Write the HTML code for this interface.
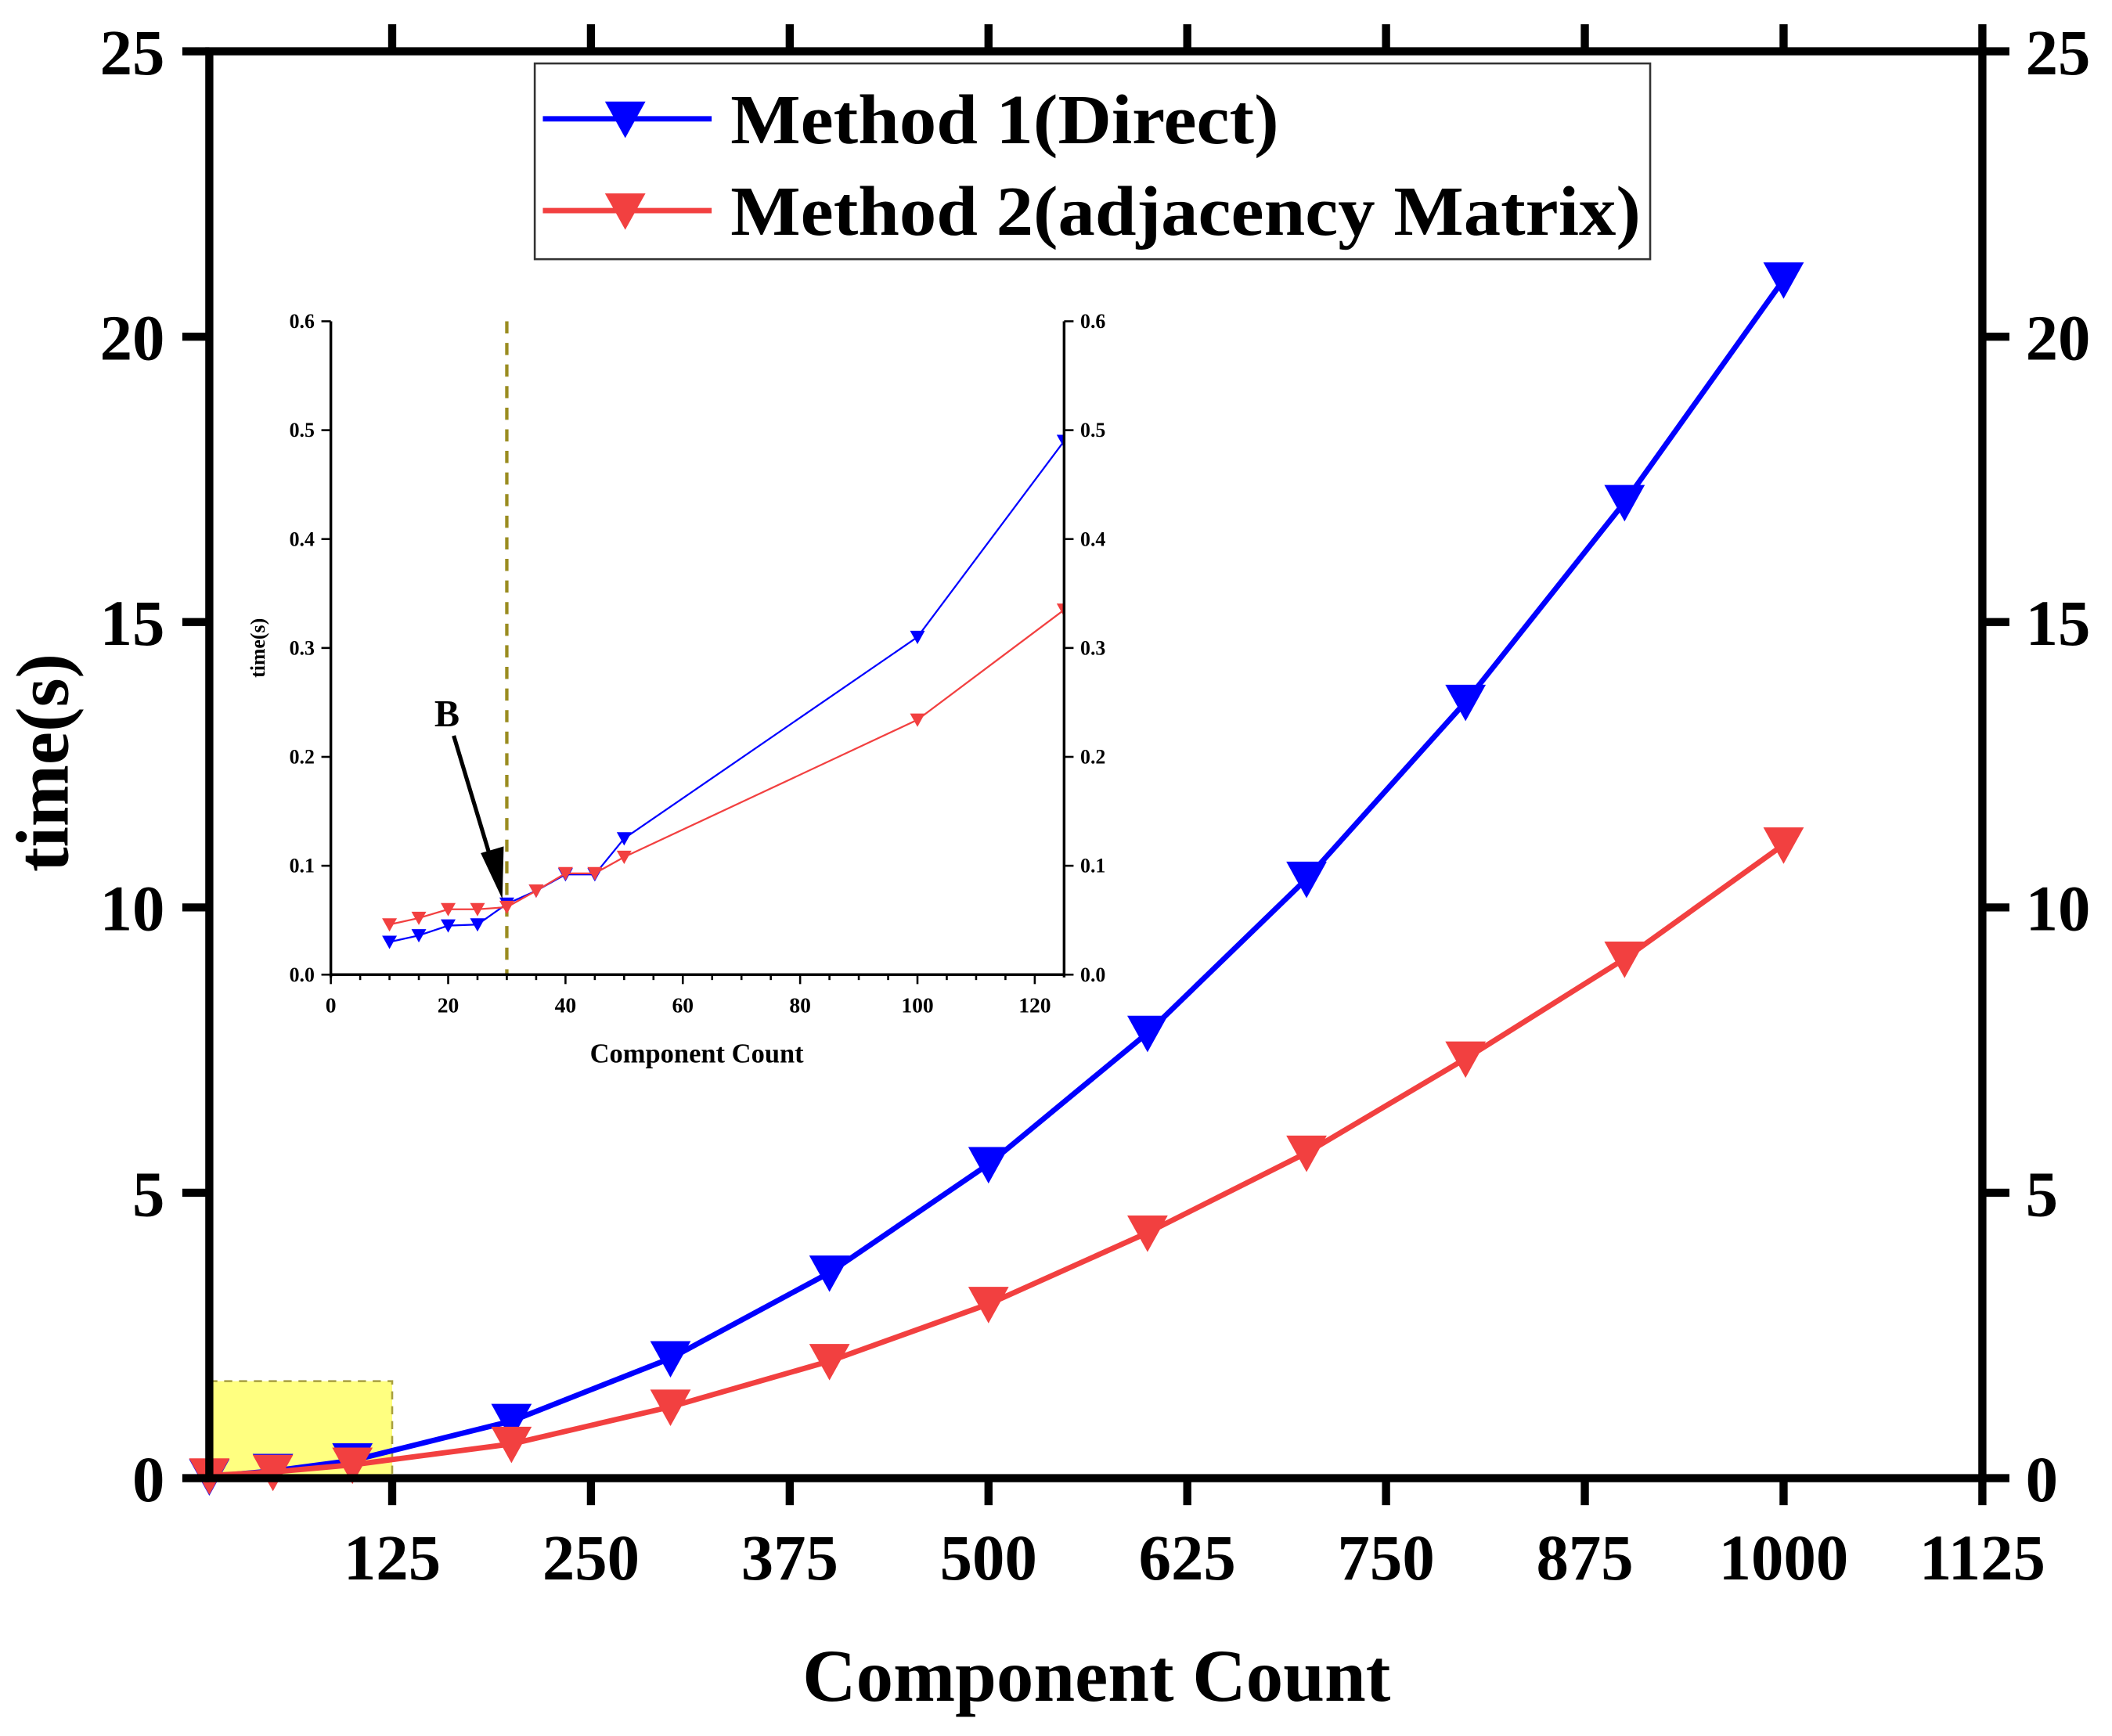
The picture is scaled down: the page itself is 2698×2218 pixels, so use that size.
<!DOCTYPE html>
<html><head><meta charset="utf-8"><style>
html,body{margin:0;padding:0;background:#fff;}
svg{display:block;font-family:"Liberation Serif",serif;font-weight:bold;}
</style></head><body>
<svg id="chart" width="2698" height="2218" viewBox="0 0 1564 1286" preserveAspectRatio="none" xmlns="http://www.w3.org/2000/svg">
<g id="main"></g>
</svg>
<script>
// main chart data
const xMain = [10, 50, 100, 200, 300, 400, 500, 600, 700, 800, 900, 1000];
const yMethod1 = [0.03, 0.125, 0.31, 1.0, 2.1, 3.6, 5.5, 7.8, 10.5, 13.6, 17.1, 21.0];
const yMethod2 = [0.046, 0.108, 0.234, 0.6, 1.25, 2.05, 3.05, 4.3, 5.7, 7.35, 9.1, 11.1];
const xTicks = [125, 250, 375, 500, 625, 750, 875, 1000, 1125];
const yTicks = [0, 5, 10, 15, 20, 25];
// inset data
const xInset = [10, 15, 20, 25, 30, 35, 40, 45, 50, 100, 125];
const yInset1 = [0.03, 0.036, 0.045, 0.046, 0.065, 0.077, 0.092, 0.092, 0.125, 0.31, 0.49];
const yInset2 = [0.046, 0.052, 0.06, 0.06, 0.062, 0.077, 0.093, 0.093, 0.108, 0.234, 0.335];
const insetXTicks = [0, 20, 40, 60, 80, 100, 120];
const insetYTicks = [0.0, 0.1, 0.2, 0.3, 0.4, 0.5, 0.6];

const NS = "http://www.w3.org/2000/svg";
const root = document.getElementById('main');
function mk(tag, attrs, parent) {
  const e = document.createElementNS(NS, tag);
  for (const k in attrs) e.setAttribute(k, attrs[k]);
  (parent || root).appendChild(e);
  return e;
}
const L = 155, R = 1468, T = 38, B = 1095;
const X0 = 10, X1 = 1125, Y0 = 0, Y1 = 25;
const sx = v => L + (v - X0) / (X1 - X0) * (R - L);
const sy = v => B - (v - Y0) / (Y1 - Y0) * (B - T);
const iL = 245, iR = 788, iT = 238, iB = 722;
const ix = v => iL + v / 125 * (iR - iL);
const iy = v => iB - v / 0.6 * (iB - iT);

function tri(cx, cy, s, color, parent) {
  return mk('polygon', {points: `${cx - s},${cy - s * 0.85} ${cx + s},${cy - s * 0.85} ${cx},${cy + s * 0.95}`, fill: color}, parent);
}

let e = mk('rect', {x: sx(10), y: sy(1.7), width: sx(125) - sx(10), height: sy(0) - sy(1.7), fill: '#ffff80', stroke: '#a8a040', 'stroke-width': 1.5, 'stroke-dasharray': '6,5'});



function series(xs, ys, color, name, fx, fy, sw, ms, parent) {
  const g = mk('g', {}, parent);
  
  
  const pl = mk('polyline', {points: xs.map((x, i) => fx(x) + ',' + fy(ys[i])).join(' '), fill: 'none', stroke: color, 'stroke-width': sw}, g);
  
  
  xs.forEach((x, i) => {
    const m = tri(fx(x), fy(ys[i]), ms, color, g);
    
    
  });
  return g;
}
series(xMain, yMethod1, '#0000ff', 'method1-series', sx, sy, 4, 15);
series(xMain, yMethod2, '#f24040', 'method2-series', sx, sy, 4, 15);

e = mk('rect', {x: L, y: T, width: R - L, height: B - T, fill: 'none', stroke: '#000', 'stroke-width': 6});


xTicks.forEach(v => {
  mk('line', {x1: sx(v), x2: sx(v), y1: B, y2: B + 20, stroke: '#000', 'stroke-width': 6});
  mk('line', {x1: sx(v), x2: sx(v), y1: T, y2: T - 20, stroke: '#000', 'stroke-width': 6});
  const t = mk('text', {x: sx(v), y: 1170, 'text-anchor': 'middle', 'font-size': 48});
  t.textContent = v;
  
  
});
yTicks.forEach(v => {
  mk('line', {x1: L, x2: L - 20, y1: sy(v), y2: sy(v), stroke: '#000', 'stroke-width': 6});
  mk('line', {x1: R, x2: R + 20, y1: sy(v), y2: sy(v), stroke: '#000', 'stroke-width': 6});
  let t = mk('text', {x: 122, y: sy(v) + 17, 'text-anchor': 'end', 'font-size': 48});
  t.textContent = v;
  
  
  t = mk('text', {x: 1500, y: sy(v) + 17, 'text-anchor': 'start', 'font-size': 48});
  t.textContent = v;
  
  
});
e = mk('text', {x: 812, y: 1260, 'text-anchor': 'middle', 'font-size': 55});
e.textContent = 'Component Count';


e = mk('text', {x: 0, y: 0, 'text-anchor': 'middle', 'font-size': 55, transform: 'translate(50,565) rotate(-90)'});
e.textContent = 'time(s)';



const lg = mk('g', {});


mk('rect', {x: 396, y: 47, width: 826, height: 145, fill: '#fff', stroke: '#333', 'stroke-width': 1.5}, lg);
[['Method 1(Direct)', '#0000ff', 88], ['Method 2(adjacency Matrix)', '#f24040', 156]].forEach(([txt, c, y]) => {
  const g = mk('g', {}, lg);
  
  
  mk('line', {x1: 402, x2: 527, y1: y, y2: y, stroke: c, 'stroke-width': 4}, g);
  tri(463, y, 15, c, g);
  const t = mk('text', {x: 541, y: y + 18, 'font-size': 52, textLength: txt.length > 20 ? 674 : 406, lengthAdjust: 'spacingAndGlyphs'}, g);
  t.textContent = txt;
});

const ig = mk('g', {});


const cp = mk('clipPath', {id: 'ic'}, ig);
mk('rect', {x: iL, y: iT, width: iR - iL, height: iB - iT}, cp);
const ic = mk('g', {'clip-path': 'url(#ic)'}, ig);
e = mk('line', {x1: ix(30), x2: ix(30), y1: iT, y2: iB, stroke: '#9a8c20', 'stroke-width': 2.5, 'stroke-dasharray': '9,7'}, ic);


series(xInset, yInset1, '#0000ff', 'inset-method1-series', ix, iy, 1.3, 5.5, ic);
series(xInset, yInset2, '#f24040', 'inset-method2-series', ix, iy, 1.3, 5.5, ic);
mk('line', {x1: iL, x2: iL, y1: iT, y2: iB + 2, stroke: '#000', 'stroke-width': 2}, ig);
mk('line', {x1: iR, x2: iR, y1: iT, y2: iB + 2, stroke: '#000', 'stroke-width': 2}, ig);
mk('line', {x1: iL - 1, x2: iR + 1, y1: iB, y2: iB, stroke: '#000', 'stroke-width': 2}, ig);
for (let v = 0; v <= 124; v += 5) mk('line', {x1: ix(v), x2: ix(v), y1: iB, y2: iB + (v % 20 === 0 ? 7 : 4), stroke: '#000', 'stroke-width': 1.5}, ig);
insetXTicks.forEach(v => {
  const t = mk('text', {x: ix(v), y: iB + 28, 'text-anchor': 'middle', 'font-size': 16}, ig);
  t.textContent = v;
  
  
});
insetYTicks.forEach(v => {
  mk('line', {x1: iL, x2: iL - 7, y1: iy(v), y2: iy(v), stroke: '#000', 'stroke-width': 1.5}, ig);
  mk('line', {x1: iR, x2: iR + 7, y1: iy(v), y2: iy(v), stroke: '#000', 'stroke-width': 1.5}, ig);
  let t = mk('text', {x: iL - 12, y: iy(v) + 5, 'text-anchor': 'end', 'font-size': 15}, ig);
  t.textContent = v.toFixed(1);
  
  
  t = mk('text', {x: iR + 12, y: iy(v) + 5, 'text-anchor': 'start', 'font-size': 15}, ig);
  t.textContent = v.toFixed(1);
  
  
});
e = mk('text', {x: 516, y: 787, 'text-anchor': 'middle', 'font-size': 20}, ig);
e.textContent = 'Component Count';


e = mk('text', {x: 0, y: 0, 'text-anchor': 'middle', 'font-size': 15, transform: 'translate(196,480) rotate(-90)'}, ig);
e.textContent = 'time(s)';


e = mk('text', {x: 331, y: 538, 'text-anchor': 'middle', 'font-size': 28}, ig);
e.textContent = 'B';


e = mk('line', {x1: 336, y1: 545, x2: 364, y2: 638, stroke: '#000', 'stroke-width': 3}, ig);


mk('polygon', {points: '372,666 356,632 373,627', fill: '#000'}, ig);
</script>
</body></html>
